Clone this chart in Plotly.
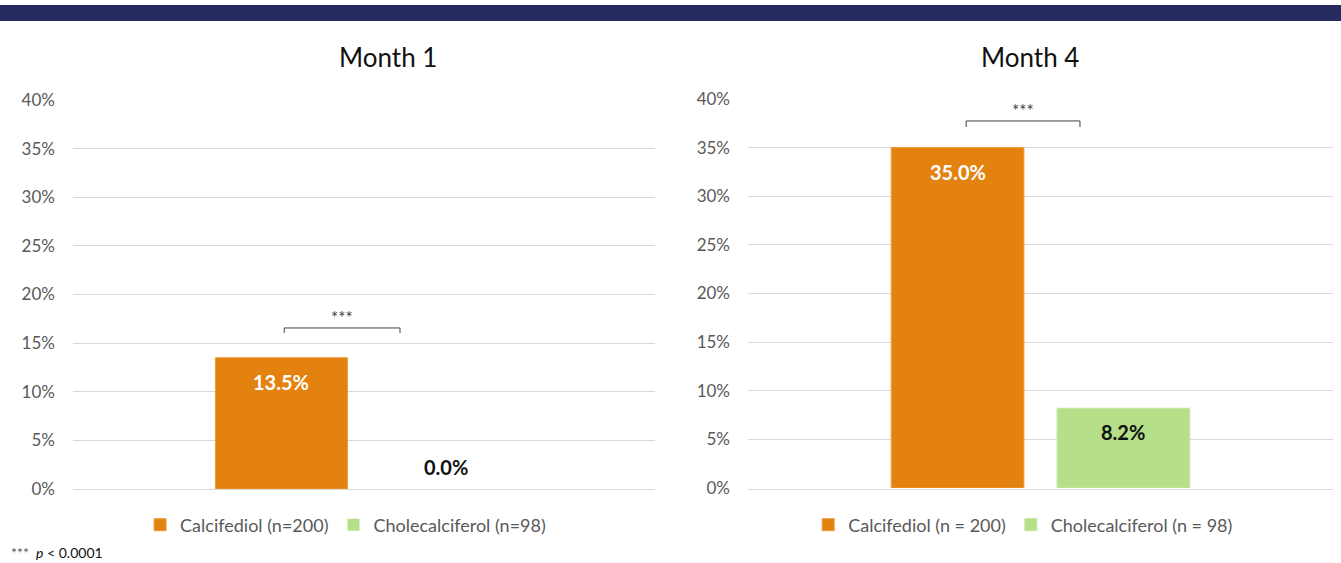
import plotly.graph_objects as go

# dati (percentuali)
panels = ["Month 1", "Month 4"]
series_m1 = ["Calcifediol (n=200)", "Cholecalciferol (n=98)"]
series_m4 = ["Calcifediol (n = 200)", "Cholecalciferol (n = 98)"]
values_m1 = [0.135, 0.0]
values_m4 = [0.350, 0.082]
y_ticks = [0, 0.05, 0.10, 0.15, 0.20, 0.25, 0.30, 0.35, 0.40]
footnote = "<span style='color:#595959'>***</span>  <i>p</i> < 0.0001"

colori = ["#E4820F", "#B5DF88"]
bordi = ["#EE9A3C", "#C4E6A0"]
testo_label = ["white", "#111111"]
FONT = "Lato"
bargap = 0.433

fig = go.Figure()

pannelli = [
    (panels[0], series_m1, values_m1, "x", "y", "legend"),
    (panels[1], series_m4, values_m4, "x2", "y2", "legend2"),
]

for titolo, nomi, valori, xa, ya, leg in pannelli:
    for i, (nome, v) in enumerate(zip(nomi, valori)):
        fig.add_trace(go.Bar(
            x=[titolo], y=[v], name=nome,
            marker=dict(color=colori[i], line=dict(color=bordi[i], width=1 if v > 0 else 0)),
            xaxis=xa, yaxis=ya, legend=leg, hoverinfo="skip",
        ))
        # etichetta del valore (posizione calcolata dalla geometria del gruppo)
        slot = (1 - bargap) / len(nomi)
        xc = (i - (len(nomi) - 1) / 2) * slot
        fig.add_annotation(
            x=xc, y=v, xref=xa, yref=ya, text=f"<b>{v*100:.1f}%</b>",
            showarrow=False, xanchor="center", yanchor="middle",
            yshift=-24 if v > 0 else 22,
            font=dict(family=FONT, size=20, color=testo_label[i] if v > 0 else "#111111"),
        )

asse_y = dict(range=[0, 0.4], tickvals=y_ticks, tickformat=".0%",
              showgrid=True, gridcolor="#D9D9D9", gridwidth=1,
              zeroline=False, showline=False, fixedrange=True,
              tickfont=dict(family=FONT, size=17, color="#595959"),
              ticklabelstandoff=17)
asse_x = dict(showticklabels=False, showgrid=False, zeroline=False,
              showline=True, linecolor="#D9D9D9", linewidth=1, fixedrange=True)

fig.update_layout(
    width=1341, height=563,
    margin=dict(l=0, r=0, t=0, b=0, autoexpand=False),
    paper_bgcolor="white", plot_bgcolor="white",
    barmode="group", bargap=bargap, bargroupgap=0.2,
    xaxis=dict(asse_x, domain=[0.0544, 0.4884]),
    xaxis2=dict(asse_x, domain=[0.5578, 0.994]),
    yaxis=dict(asse_y, domain=[0.1314, 0.8224], anchor="x"),
    yaxis2=dict(asse_y, domain=[0.1332, 0.8242], anchor="x2"),
    legend=dict(orientation="h", x=0.2577, xanchor="center", y=0.0675, yanchor="middle",
                font=dict(family=FONT, size=18, color="#595959"), itemwidth=30,
                bgcolor="rgba(0,0,0,0)"),
    legend2=dict(orientation="h", x=0.763, xanchor="center", y=0.0675, yanchor="middle",
                 font=dict(family=FONT, size=18, color="#595959"), itemwidth=30,
                 bgcolor="rgba(0,0,0,0)"),
    font=dict(family=FONT),
)

# barra blu in alto
fig.add_shape(type="rect", xref="paper", yref="paper", x0=0, x1=1, y0=0.9627, y1=0.9911,
              fillcolor="#252B5F", line=dict(width=0), layer="above")

# titoli dei pannelli
fig.add_annotation(text=panels[0], xref="paper", yref="paper", x=0.2893, y=0.899,
                   xanchor="center", yanchor="middle", showarrow=False,
                   font=dict(family=FONT, size=26, color="#111111"))
fig.add_annotation(text=panels[1], xref="paper", yref="paper", x=0.768, y=0.899,
                   xanchor="center", yanchor="middle", showarrow=False,
                   font=dict(family=FONT, size=26, color="#111111"))

# parentesi di significatività
parentesi = [("x", "y", -0.137, 0.062, 0.1656, 0.1604),
             ("x2", "y2", -0.127, 0.0675, 0.3774, 0.3712)]
for xa, ya, xl, xr, ytop, ybot in parentesi:
    fig.add_shape(type="path", xref=xa, yref=ya,
                  path=f"M {xl},{ybot} L {xl},{ytop} L {xr},{ytop} L {xr},{ybot}",
                  line=dict(color="#404040", width=1))
    fig.add_annotation(text="***", x=(xl + xr) / 2, y=ytop, xref=xa, yref=ya,
                       showarrow=False, xanchor="center", yanchor="bottom", yshift=-2,
                       font=dict(family=FONT, size=17, color="#404040"))

# nota a piè di pagina
fig.add_annotation(text=footnote, xref="paper", yref="paper", x=0.007, y=0.018,
                   xanchor="left", yanchor="middle", showarrow=False,
                   font=dict(family=FONT, size=14, color="#111111"))

fig.write_html("out.html", config={"displayModeBar": False},
               post_script="document.body.style.margin='0';")
